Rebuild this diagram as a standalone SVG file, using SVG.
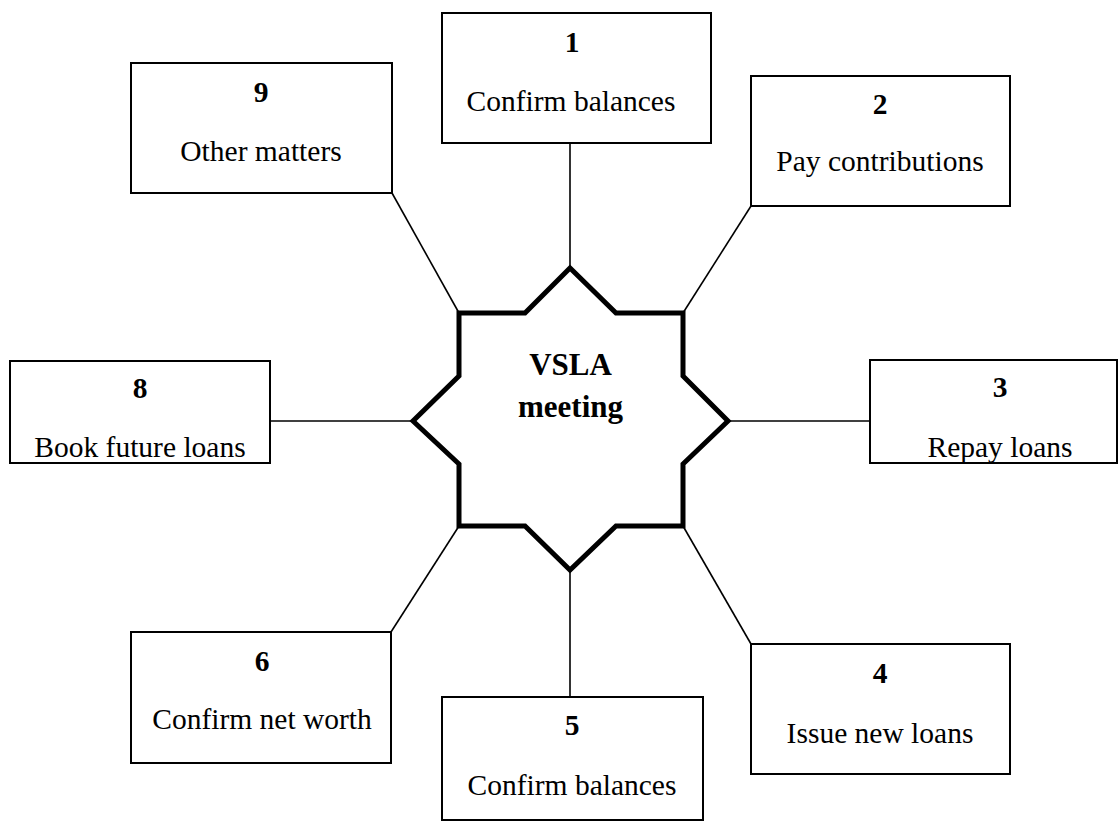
<svg xmlns="http://www.w3.org/2000/svg" width="1119" height="822" viewBox="0 0 1119 822">
  <style>
    .box { fill: #ffffff; stroke: #000000; stroke-width: 2; }
    .num { font-family: 'Liberation Serif', 'Times New Roman', Tinos, serif; font-weight: bold; font-size: 29.5px; text-anchor: middle; fill: #000000; }
    .lbl { font-family: 'Times New Roman', 'Liberation Serif', Tinos, 'DejaVu Serif', serif; font-size: 29.5px; text-anchor: middle; fill: #000000; }
    .hub-text { font-family: 'Liberation Serif', 'Times New Roman', Tinos, serif; font-weight: bold; font-size: 31px; text-anchor: middle; fill: #000000; }
    .link { stroke: #000000; stroke-width: 1.6; fill: none; }
  </style>
  <rect width="1119" height="822" fill="#ffffff"/>

  <!-- spokes from the hub to each step -->
  <g id="connectors">
    <line class="link" x1="570" y1="143" x2="570" y2="268"/>
    <line class="link" x1="751" y1="206" x2="683" y2="313"/>
    <line class="link" x1="728" y1="421" x2="870" y2="421"/>
    <line class="link" x1="683" y1="526" x2="751" y2="644"/>
    <line class="link" x1="570" y1="570" x2="570" y2="697"/>
    <line class="link" x1="391" y1="632" x2="459" y2="526"/>
    <line class="link" x1="270" y1="421" x2="413" y2="421"/>
    <line class="link" x1="392" y1="193" x2="459" y2="313"/>
  </g>

  <!-- central eight-point star -->
  <g id="hub">
    <polygon points="459,313 525,313 570,268 616,313 683,313 683,376 728,421 683,464 683,526 616,526 570,570 525,526 459,526 459,464 413,421 459,376"
             fill="#ffffff" stroke="#000000" stroke-width="5" stroke-linejoin="miter"/>
    <text class="hub-text" x="570.5" y="375">VSLA</text>
    <text class="hub-text" x="570.5" y="417">meeting</text>
  </g>

  <g id="step1">
    <rect class="box" x="442" y="13" width="269" height="130"/>
    <text class="num" x="572" y="52">1</text>
    <text class="lbl" x="571" y="111">Confirm balances</text>
  </g>

  <g id="step2">
    <rect class="box" x="751" y="76" width="259" height="130"/>
    <text class="num" x="880" y="114">2</text>
    <text class="lbl" x="880" y="171">Pay contributions</text>
  </g>

  <g id="step3">
    <rect class="box" x="870" y="360" width="247" height="103"/>
    <text class="num" x="1000" y="397">3</text>
    <text class="lbl" x="1000" y="457">Repay loans</text>
  </g>

  <g id="step4">
    <rect class="box" x="751" y="644" width="259" height="130"/>
    <text class="num" x="880" y="683">4</text>
    <text class="lbl" x="880" y="743">Issue new loans</text>
  </g>

  <g id="step5">
    <rect class="box" x="442" y="697" width="261" height="123"/>
    <text class="num" x="572" y="735">5</text>
    <text class="lbl" x="572" y="795">Confirm balances</text>
  </g>

  <g id="step6">
    <rect class="box" x="131" y="632" width="260" height="131"/>
    <text class="num" x="262" y="671">6</text>
    <text class="lbl" x="262" y="729">Confirm net worth</text>
  </g>

  <g id="step8">
    <rect class="box" x="10" y="361" width="260" height="102"/>
    <text class="num" x="140" y="398">8</text>
    <text class="lbl" x="140" y="457">Book future loans</text>
  </g>

  <g id="step9">
    <rect class="box" x="131" y="63" width="261" height="130"/>
    <text class="num" x="261" y="102">9</text>
    <text class="lbl" x="261" y="161">Other matters</text>
  </g>
</svg>
